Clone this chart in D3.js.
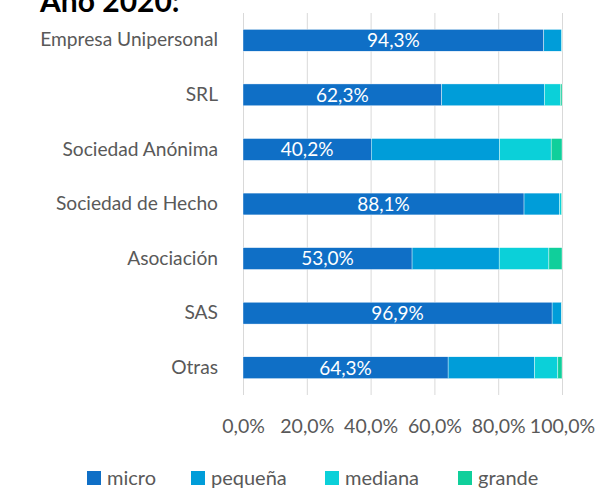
<!DOCTYPE html>
<html><head><meta charset="utf-8">
<script src="https://cdn.jsdelivr.net/npm/d3@7"></script>
<style>body{margin:0;background:#fff}svg{display:block}</style>
</head><body>
<svg id="chart" width="599" height="489"></svg>
<script>
const categories = ["Empresa Unipersonal","SRL","Sociedad Anónima","Sociedad de Hecho","Asociación","SAS","Otras"];
const seriesNames = ["micro","pequeña","mediana","grande"];
const micro   = [94.3, 62.3, 40.2, 88.1, 53.0, 96.9, 64.3];
const pequena = [5.5, 32.2, 40.2, 11.1, 27.3, 3.0, 27.1];
const mediana = [0.2, 5.0, 16.2, 0.6, 15.6, 0.05, 7.3];
const grande  = [0.0, 0.5, 3.4, 0.2, 4.1, 0.05, 1.3];
const colors = ["#0F6FC6","#009DD9","#0BD0D9","#10CF9B"];
const ticks = [0,20,40,60,80,100];
const title = "Año 2020:";

const font = "Lato, 'Open Sans', sans-serif";
const svg = d3.select("#chart");
const x = d3.scaleLinear().domain([0,100]).range([243,562]);
const y = d3.scaleBand().domain(categories).range([13,395]).paddingInner(0.6).paddingOuter(0.3);

const rows = categories.map((c,i)=>({cat:c, micro:micro[i], "pequeña":pequena[i], mediana:mediana[i], grande:grande[i]}));
const stack = d3.stack().keys(seriesNames)(rows);

// title (partly above the top edge, as in the reference)
svg.append("text").attr("x",40).attr("y",12).attr("font-family",font).attr("font-weight","bold")
  .attr("font-size",30).attr("fill","#000").text(title);

// gridlines
svg.append("g").selectAll("line").data(ticks).join("line")
  .attr("x1",d=>x(d)+0.5).attr("x2",d=>x(d)+0.5).attr("y1",13).attr("y2",395)
  .attr("stroke","#d9d9d9").attr("stroke-width",1);

// bars
svg.append("g").selectAll("g").data(stack).join("g").attr("fill",(d,i)=>colors[i])
  .selectAll("rect").data(d=>d).join("rect")
  .attr("x",d=>x(d[0])).attr("width",d=>Math.max(0,x(d[1])-x(d[0])))
  .attr("y",d=>y(d.data.cat)).attr("height",y.bandwidth())
  .attr("stroke","#fff").attr("stroke-width",0.4);

// data labels
svg.append("g").selectAll("text").data(stack[0]).join("text")
  .attr("x",d=>(x(d[0])+x(d[1]))/2).attr("y",d=>y(d.data.cat)+y.bandwidth()/2)
  .attr("dy","0.36em").attr("text-anchor","middle").attr("fill","#fff")
  .attr("font-family",font).attr("font-size",19)
  .text(d=>d3.format(".1f")(d[1]-d[0]).replace(".",",")+"%");

// category axis
const yAxis = svg.append("g").attr("transform","translate(243,0)").call(d3.axisLeft(y).tickSize(0).tickPadding(25));
yAxis.select(".domain").remove();
yAxis.selectAll("text").attr("font-family",font).attr("font-size",19.2).attr("fill","#595959");

// value axis
const xAxis = svg.append("g").attr("transform","translate(0,413)")
  .call(d3.axisBottom(x).tickValues(ticks).tickSize(0).tickPadding(6).tickFormat(d=>d.toFixed(1).replace(".",",")+"%"));
xAxis.select(".domain").remove();
xAxis.selectAll("text").attr("font-family",font).attr("font-size",19.5).attr("fill","#595959");

// legend
const legX = [87,191,325,458];
const leg = svg.append("g").selectAll("g").data(seriesNames).join("g")
  .attr("transform",(d,i)=>`translate(${legX[i]},471)`);
leg.append("rect").attr("width",14).attr("height",14).attr("fill",(d,i)=>colors[i]);
leg.append("text").attr("x",20).attr("y",7).attr("dy","0.36em").attr("font-family",font)
  .attr("font-size",20).attr("fill","#595959").text(d=>d);
</script>
</body></html>
